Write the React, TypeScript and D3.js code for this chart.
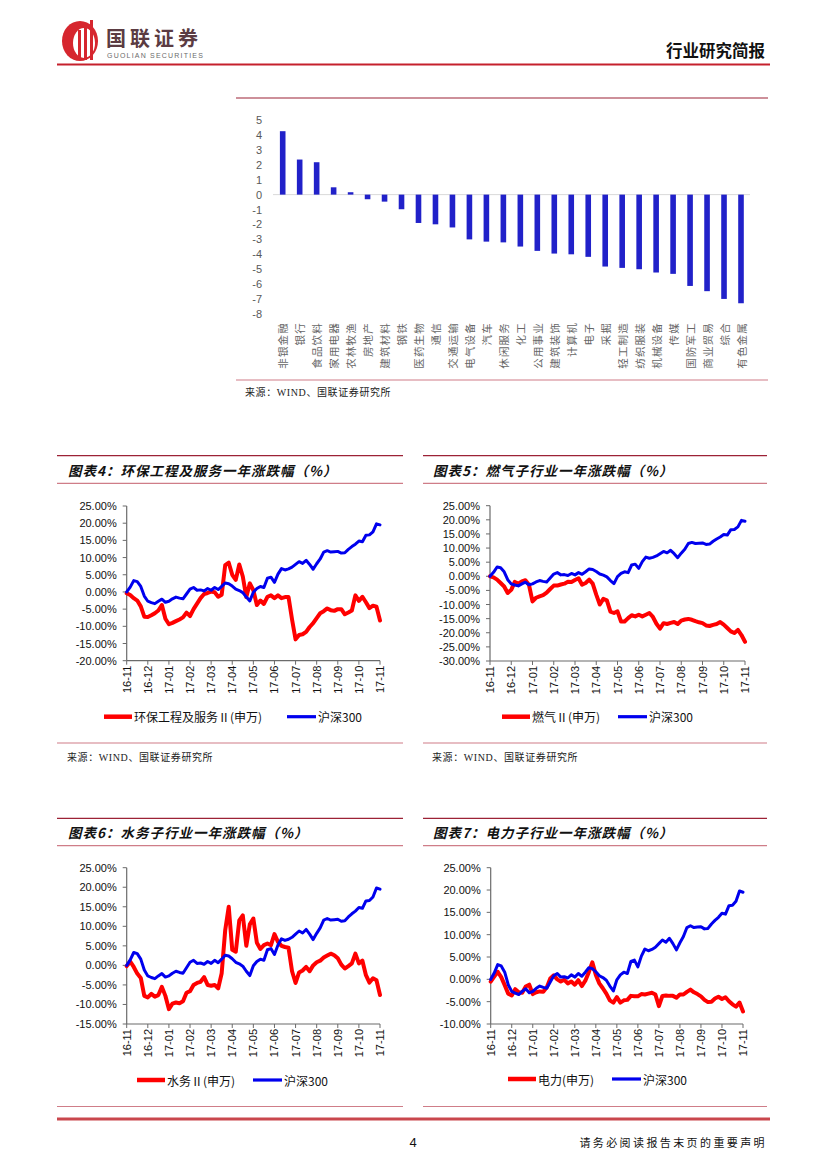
import React from "react";
import * as d3 from "d3";

// ---------- data ----------
const barCategories = ["非银金融","银行","食品饮料","家用电器","农林牧渔","房地产","建筑材料","钢铁","医药生物","通信","交通运输","电气设备","汽车","休闲服务","化工","公用事业","建筑装饰","计算机","电子","采掘","轻工制造","纺织服装","机械设备","传媒","国防军工","商业贸易","综合","有色金属"];
const barValues = [4.25, 2.35, 2.17, 0.49, 0.16, -0.31, -0.47, -0.98, -1.9, -1.99, -2.2, -3.0, -3.15, -3.2, -3.48, -3.77, -3.95, -4.0, -4.17, -4.82, -4.91, -5.0, -5.22, -5.31, -6.12, -6.47, -6.99, -7.28];
const barTicks = [5, 4, 3, 2, 1, 0, -1, -2, -3, -4, -5, -6, -7, -8];

const monthLabels = ["16-11","16-12","17-01","17-02","17-03","17-04","17-05","17-06","17-07","17-08","17-09","17-10","17-11"];

const hs300 = [0.0,1.4,3.3,3.0,1.6,-1.2,-2.7,-3.1,-3.4,-2.7,-2.1,-3.0,-2.7,-2.0,-1.5,-1.8,-2.0,-0.6,0.8,1.3,0.5,0.6,0.3,1.0,0.5,1.3,0.7,1.6,2.6,2.4,1.7,0.8,0.4,-0.2,-1.5,-2.6,-0.1,1.0,1.6,1.3,4.0,4.3,2.8,5.2,6.8,6.4,6.7,7.2,8.0,8.8,8.3,9.2,8.0,6.6,8.2,9.6,11.6,12.0,11.6,11.7,11.8,11.3,11.4,12.4,13.2,13.9,14.8,14.6,16.5,16.6,17.5,19.8,19.5];
const huanbao = [-0.4,-0.9,-1.8,-2.5,-4.2,-7.2,-7.3,-6.8,-6.2,-5.4,-3.8,-7.8,-9.4,-9.0,-8.5,-8.0,-7.4,-6.0,-7.0,-5.0,-3.4,-1.8,-0.6,-0.3,0.1,-0.1,-1.4,-0.8,7.8,8.5,5.0,3.5,8.0,4.5,-1.5,2.5,0.5,-3.8,-2.5,-3.5,-1.4,-1.0,-1.8,-1.0,-1.8,-1.5,-1.5,-8.0,-13.8,-12.5,-12.3,-11.6,-10.2,-9.1,-7.6,-6.2,-5.6,-4.8,-5.3,-5.5,-5.0,-5.0,-6.5,-6.0,-5.4,-1.0,-2.6,-1.4,-3.0,-4.7,-4.0,-4.3,-8.3];
const ranqi = [0,-0.4,-1.2,-2.4,-3.6,-5.9,-4.8,-2.0,-2.6,-1.8,-1.4,-3.0,-8.9,-7.6,-7.1,-6.7,-5.8,-4.5,-3.3,-3.3,-2.9,-2.6,-1.9,-2.0,-1.3,-0.7,-3.0,-2.4,-1.2,-2.6,-6.5,-10.0,-8.0,-8.5,-12.5,-13.0,-12.4,-16.0,-16.0,-14.8,-13.8,-14.2,-13.6,-14.2,-13.6,-13.0,-14.4,-16.8,-18.5,-16.6,-16.9,-16.5,-16.2,-16.9,-15.7,-15.3,-15.1,-15.4,-15.9,-16.3,-16.6,-17.4,-17.6,-17.2,-16.9,-16.2,-17.1,-18.3,-19.5,-20.1,-19.0,-20.8,-23.2];
const shuiwu = [-0.2,1.0,-0.4,-2.1,-3.2,-7.8,-8.2,-7.3,-8.0,-7.6,-5.5,-7.8,-11.2,-9.8,-9.5,-9.7,-9.2,-7.0,-6.6,-5.0,-4.5,-4.2,-3.0,-5.0,-5.2,-5.0,-5.9,-2.0,9.0,15.0,4.0,3.5,11.5,12.8,5.0,10.5,12.0,5.8,4.2,5.2,5.6,5.2,8.0,6.0,5.0,4.7,4.5,-1.5,-4.5,-1.8,-1.3,-0.4,-1.5,0.0,0.8,1.2,2.0,2.5,3.0,2.6,1.8,0.2,-0.8,-0.2,0.5,3.0,0.5,1.2,-2.5,-4.4,-3.3,-3.8,-7.6];
const dianli = [-0.5,0.6,1.7,0.5,-1.3,-3.2,-3.6,-2.2,-2.9,-3.0,-1.6,-1.2,-3.3,-2.9,-2.7,-2.8,-1.8,0.2,0.9,0.0,-0.5,-0.1,-0.9,-0.5,-1.2,-0.2,-1.5,-0.3,1.6,3.8,1.0,-0.9,-2.0,-3.2,-4.7,-5.2,-4.0,-5.2,-4.7,-4.6,-3.7,-3.8,-3.8,-3.3,-3.4,-3.2,-3.0,-3.4,-6.0,-3.7,-3.6,-3.7,-3.7,-4.1,-3.4,-3.4,-2.8,-2.3,-2.9,-3.3,-3.8,-4.6,-5.1,-5.0,-4.3,-3.9,-4.4,-4.0,-4.9,-5.6,-6.1,-5.2,-7.2];

const SOURCE = "来源：WIND、国联证券研究所";
const CJK = "'Noto Sans CJK SC', sans-serif";
const LAT = "'Liberation Sans', Arial, sans-serif";
const SRC_FONT = "'Liberation Serif', 'Noto Sans CJK SC', serif";
const DARK_LINE = "#9c2236";
const PINK_LINE = "#cf7d88";

type LCProps = {
  fx0: number; fx1: number; top: number; under: number; bottom: number;
  title: string; titleX: number; titleY: number;
  ax0: number; ax1: number; yTop: number; yBot: number; min: number; max: number;
  red: number[]; redLabel: string; legY: number; rx: number; bx: number;
  srcX: number; srcY: number | null;
};

function LineChart(p: LCProps) {
  const x = d3.scaleLinear().domain([0, hs300.length - 1]).range([p.ax0, p.ax1]);
  const y = d3.scaleLinear().domain([p.min, p.max]).range([p.yBot, p.yTop]);
  const line = d3.line<number>().x((_, i) => x(i)).y((d) => y(d));
  const yTicks = d3.range(p.max, p.min - 0.001, -5);
  const step = (hs300.length - 1) / (monthLabels.length - 1);
  return (
    <g>
      <line x1={p.fx0} x2={p.fx1} y1={p.top} y2={p.top} stroke={DARK_LINE} strokeWidth={1.2} />
      <text x={p.titleX} y={p.titleY} fontFamily={CJK} fontWeight={700} fontStyle="italic" fontSize={13.5} letterSpacing={1} dominantBaseline="central" fill="#111">{p.title}</text>
      <line x1={p.fx0} x2={p.fx1} y1={p.under} y2={p.under} stroke={PINK_LINE} strokeWidth={1.2} />
      {/* axes */}
      <line x1={p.ax0} x2={p.ax0} y1={p.yTop} y2={p.yBot} stroke="#6b6b6b" strokeWidth={1.2} />
      <line x1={p.ax0} x2={p.ax1} y1={p.yBot} y2={p.yBot} stroke="#6b6b6b" strokeWidth={1.2} />
      {yTicks.map((t) => (
        <g key={t}>
          <line x1={p.ax0 - 4} x2={p.ax0} y1={y(t)} y2={y(t)} stroke="#6b6b6b" />
          <text x={p.ax0 - 10} y={y(t)} textAnchor="end" dominantBaseline="central" fontFamily={LAT} fontSize={11} fill="#111">{t.toFixed(2) + "%"}</text>
        </g>
      ))}
      {monthLabels.map((m, i) => {
        const xx = x(i * step);
        return (
          <g key={m}>
            <line x1={xx} x2={xx} y1={p.yBot} y2={p.yBot + 4} stroke="#6b6b6b" />
            <text transform={`translate(${xx},${p.yBot + 5}) rotate(-90)`} textAnchor="end" dominantBaseline="central" fontFamily={LAT} fontSize={11} fill="#111">{m}</text>
          </g>
        );
      })}
      <path d={line(p.red) || ""} fill="none" stroke="#ff0000" strokeWidth={4} strokeLinejoin="round" strokeLinecap="round" />
      <path d={line(hs300) || ""} fill="none" stroke="#0000ee" strokeWidth={3} strokeLinejoin="round" strokeLinecap="round" />
      {/* legend */}
      <line x1={p.rx} x2={p.rx + 28} y1={p.legY} y2={p.legY} stroke="#ff0000" strokeWidth={4.5} />
      <text x={p.rx + 30} y={p.legY} dominantBaseline="central" fontFamily={CJK} fontSize={12} fill="#111">{p.redLabel}</text>
      <line x1={p.bx} x2={p.bx + 29} y1={p.legY} y2={p.legY} stroke="#0000ee" strokeWidth={3.2} />
      <text x={p.bx + 31} y={p.legY} dominantBaseline="central" fontFamily={CJK} fontSize={12} fill="#111">沪深300</text>
      <line x1={p.fx0} x2={p.fx1} y1={p.bottom} y2={p.bottom} stroke={PINK_LINE} strokeWidth={1.2} />
      {p.srcY !== null && (
        <text x={p.srcX} y={p.srcY} dominantBaseline="central" fontFamily={SRC_FONT} fontSize={10} letterSpacing={0.6} fill="#222">{SOURCE}</text>
      )}
    </g>
  );
}

function BarChart() {
  const x = d3.scalePoint<string>().domain(barCategories).range([282.7, 741]);
  const y = d3.scaleLinear().domain([-8, 5]).range([314, 120]);
  const bw = 5.6;
  return (
    <g>
      <line x1={236} x2={768} y1={98} y2={98} stroke={DARK_LINE} strokeWidth={1.2} />
      {barTicks.map((t) => (
        <text key={t} x={262} y={y(t)} textAnchor="end" dominantBaseline="central" fontFamily={LAT} fontSize={11} fill="#595959">{t}</text>
      ))}
      <line x1={273} x2={750} y1={y(0)} y2={y(0)} stroke="#d9d9d9" strokeWidth={1} />
      {barCategories.map((c, i) => {
        const v = barValues[i];
        const cx = x(c) as number;
        return <rect key={c} x={cx - bw / 2} y={Math.min(y(v), y(0))} width={bw} height={Math.abs(y(v) - y(0))} fill="#2121c9" />;
      })}
      {barCategories.map((c) => (
        <text key={c} transform={`translate(${x(c)},${322}) rotate(-90)`} textAnchor="end" dominantBaseline="central" fontFamily={CJK} fontSize={10.5} letterSpacing={1.2} fill="#666">{c}</text>
      ))}
      <line x1={236} x2={768} y1={380} y2={380} stroke={PINK_LINE} strokeWidth={1.2} />
      <text x={245} y={392.5} dominantBaseline="central" fontFamily={SRC_FONT} fontSize={10} letterSpacing={0.6} fill="#222">{SOURCE}</text>
    </g>
  );
}

function Header() {
  return (
    <g>
      {/* logo mark */}
      <ellipse cx={80} cy={41} rx={18} ry={20} fill="#d6262e" />
      <ellipse cx={84} cy={43} rx={11} ry={15} fill="#ffffff" />
      <rect x={78} y={30} width={3} height={30} fill="#d6262e" />
      <rect x={84} y={24} width={3} height={36} fill="#d6262e" />
      <rect x={90} y={20} width={3} height={40} fill="#d6262e" />
      <text x={106} y={37.5} dominantBaseline="central" fontFamily={CJK} fontWeight={700} fontSize={20} letterSpacing={4} fill="#5b3b42">国联证券</text>
      <text x={107} y={55} dominantBaseline="central" fontFamily={LAT} fontSize={7} fill="#6b6b6b" letterSpacing={1.2}>GUOLIAN SECURITIES</text>
      <text x={765} y={50} textAnchor="end" dominantBaseline="central" fontFamily={CJK} fontWeight={700} fontSize={16.5} fill="#111">行业研究简报</text>
      <line x1={57} x2={770} y1={64.5} y2={64.5} stroke="#c5202c" strokeWidth={2} />
    </g>
  );
}

export default function App() {
  return (
    <svg width={827} height={1169} style={{ position: "absolute", left: 0, top: 0, background: "#fff" }}>
      <rect width={827} height={1169} fill="#fff" />
      <Header />
      <BarChart />
      <LineChart fx0={57} fx1={403} top={455.7} under={483.3} bottom={743}
        title="图表4：环保工程及服务一年涨跌幅（%）" titleX={68} titleY={469.5}
        ax0={126.7} ax1={380} yTop={506} yBot={660.7} min={-20} max={25}
        red={huanbao} redLabel="环保工程及服务Ⅱ(申万)" legY={716.7} rx={104} bx={287}
        srcX={67} srcY={757} />
      <LineChart fx0={423} fx1={767} top={455.7} under={483.3} bottom={743}
        title="图表5：燃气子行业一年涨跌幅（%）" titleX={433} titleY={469.5}
        ax0={490} ax1={745} yTop={505.7} yBot={661} min={-30} max={25}
        red={ranqi} redLabel="燃气Ⅱ(申万)" legY={716.7} rx={502} bx={618}
        srcX={432} srcY={757} />
      <LineChart fx0={57} fx1={403} top={818.3} under={845.7} bottom={1106.5}
        title="图表6：水务子行业一年涨跌幅（%）" titleX={68} titleY={832}
        ax0={126.7} ax1={380} yTop={867.7} yBot={1024} min={-15} max={25}
        red={shuiwu} redLabel="水务Ⅱ(申万)" legY={1080} rx={137} bx={253}
        srcX={67} srcY={null} />
      <LineChart fx0={423} fx1={767} top={818.3} under={845.7} bottom={1106.5}
        title="图表7：电力子行业一年涨跌幅（%）" titleX={433} titleY={832}
        ax0={490.7} ax1={743} yTop={867.7} yBot={1024} min={-10} max={25}
        red={dianli} redLabel="电力(申万)" legY={1079} rx={508} bx={612}
        srcX={432} srcY={null} />
      {/* footer */}
      <line x1={57} x2={770} y1={1119} y2={1119} stroke="#c9474d" strokeWidth={3} />
      <text x={413} y={1142} textAnchor="middle" dominantBaseline="central" fontFamily={LAT} fontSize={13} fill="#111">4</text>
      <text x={767} y={1142} textAnchor="end" dominantBaseline="central" fontFamily={CJK} fontSize={11} letterSpacing={2.4} fill="#111">请务必阅读报告末页的重要声明</text>
    </svg>
  );
}
